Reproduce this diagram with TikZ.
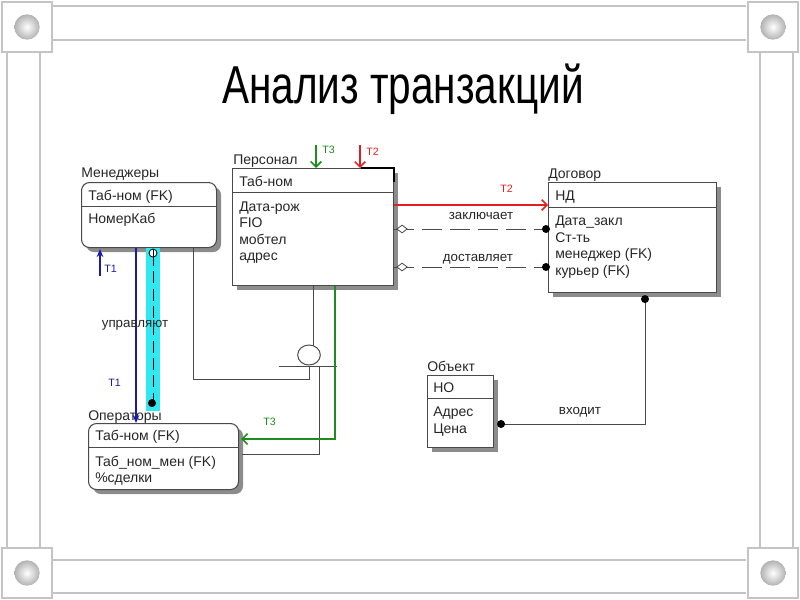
\documentclass[tikz,border=0pt]{standalone}
\usepackage{fontspec}
\setmainfont{Liberation Sans}
\usetikzlibrary{arrows.meta,calc,shapes.geometric,backgrounds}
\definecolor{frameg}{HTML}{C4C4C4}
\definecolor{lineg}{HTML}{4A4A4A}
\definecolor{shad}{HTML}{8C8C8C}
\definecolor{tred}{HTML}{E02020}
\definecolor{tgreen}{HTML}{1E8C1E}
\definecolor{tblue}{HTML}{1A1AB0}
\definecolor{hcyan}{HTML}{30E8F2}
\definecolor{txt}{HTML}{262626}
\tikzset{
  ent/.style={draw=lineg, line width=0.8pt, fill=white, anchor=north west, inner sep=0pt},
  rent/.style={ent, rounded corners=6pt},
  lbl/.style={anchor=base west, inner sep=0pt, font=\fontsize{10.5}{12}\selectfont, text=txt},
  clbl/.style={anchor=base, inner sep=0pt, font=\fontsize{10}{12}\selectfont, text=txt},
  tlbl/.style={anchor=base west, inner sep=0pt, font=\fontsize{8}{9}\selectfont},
  conn/.style={draw=lineg, line width=0.75pt},
  frl/.style={draw=frameg, line width=2.2pt},
  cornerbox/.style={draw=frameg, line width=1.6pt, fill=white, minimum size=38pt, inner sep=0pt},
  ball/.style={circle, minimum size=19pt, inner sep=0pt, shading=radial, inner color=white, outer color=gray!60},
  ldot/.style={circle, fill=black, minimum size=6pt, inner sep=0pt},
  odot/.style={circle, draw=black, fill=white, line width=0.6pt, minimum size=6pt, inner sep=0pt},
  odiam/.style={diamond, draw=lineg, fill=white, line width=0.6pt, minimum width=8pt, minimum height=6pt, inner sep=0pt},
  redarr/.style={tred, line width=1.1pt, -{Straight Barb[length=4pt,width=8pt]}},
  greenarr/.style={tgreen, line width=1.2pt, -{Straight Barb[length=4pt,width=8pt]}},
  bluearr/.style={tblue, line width=1.2pt, -{Stealth[length=6pt,width=5pt]}},
  longdash/.style={dash pattern=on 15pt off 6pt},
}
\begin{document}
\begin{tikzpicture}[x=0.75pt,y=-0.75pt]
\useasboundingbox (0,0) rectangle (800,600);
% ---------- frame ----------
\draw[frl] (53,6) -- (746,6);
\draw[frl] (53,40) -- (746,40);
\draw[frl] (53,560) -- (746,560);
\draw[frl] (53,593) -- (746,593);
\draw[frl] (7,53) -- (7,547);
\draw[frl] (40,53) -- (40,547);
\draw[frl] (760,53) -- (760,547);
\draw[frl] (793,53) -- (793,547);
\node[cornerbox] (c1) at (27,27) {};
\node[cornerbox] (c2) at (773,27) {};
\node[cornerbox] (c3) at (27,573) {};
\node[cornerbox] (c4) at (773,573) {};
\node[ball] (b1) at (c1) {};
\node[ball] (b2) at (c2) {};
\node[ball] (b3) at (c3) {};
\node[ball] (b4) at (c4) {};
% ---------- title ----------
\node[anchor=base, inner sep=0pt, text=black] (title) at (403,103)
  {\fontsize{40}{48}\selectfont\scalebox{0.76}[1]{Анализ транзакций}};
% ---------- entities ----------
\node[rent, minimum width=101.25pt, minimum height=48.75pt] (men) at (81,182) {};
\node[ent, minimum width=120.75pt, minimum height=87.75pt] (pers) at (232,168) {};
\node[ent, minimum width=126pt, minimum height=82.5pt] (dog) at (548,182) {};
\node[ent, minimum width=49.5pt, minimum height=54pt] (obj) at (427,375) {};
\node[rent, minimum width=112.5pt, minimum height=49.5pt] (oper) at (88,423) {};
\begin{scope}[on background layer]
  \fill[shad, rounded corners=6pt] ($(men.north west)+(5,5)$) rectangle ($(men.south east)+(4,4)$);
  \fill[shad] ($(pers.north west)+(5,5)$) rectangle ($(pers.south east)+(4,4)$);
  \fill[shad] ($(dog.north west)+(5,5)$) rectangle ($(dog.south east)+(4,4)$);
  \fill[shad] ($(obj.north west)+(5,5)$) rectangle ($(obj.south east)+(4,4)$);
  \fill[shad, rounded corners=6pt] ($(oper.north west)+(5,5)$) rectangle ($(oper.south east)+(4,4)$);
\end{scope}
% dividers
\draw[conn] ($(men.north west)+(0,24)$) -- ($(men.north east)+(0,24)$);
\draw[conn] ($(pers.north west)+(0,24)$) -- ($(pers.north east)+(0,24)$);
\draw[conn] ($(dog.north west)+(0,25)$) -- ($(dog.north east)+(0,25)$);
\draw[conn] ($(obj.north west)+(0,23)$) -- ($(obj.north east)+(0,23)$);
\draw[conn] ($(oper.north west)+(0,24)$) -- ($(oper.north east)+(0,24)$);
% black corner on Персонал
\draw[black, line width=1.3pt] ($(pers.north east)+(-33,0)$) -- (pers.north east) -- ($(pers.north east)+(0,14)$);
% ---------- texts ----------
\node[lbl] (mT) at (81,177) {Менеджеры};
\node[lbl] (m1) at (88,200) {Таб-ном (FK)};
\node[lbl] (m2) at (88,223) {НомерКаб};
\node[lbl] (pT) at (233,164) {Персонал};
\node[lbl] (p1) at (239,186) {Таб-ном};
\node[lbl] (p2) at (239,211) {Дата-рож};
\node[lbl] (p3) at (239,227) {FIO};
\node[lbl] (p4) at (239,244) {мобтел};
\node[lbl] (p5) at (239,260) {адрес};
\node[lbl] (dT) at (548,178) {Договор};
\node[lbl] (d1) at (555,200) {НД};
\node[lbl] (d2) at (555,225) {Дата\_закл};
\node[lbl] (d3) at (555,242) {Ст-ть};
\node[lbl] (d4) at (555,258) {менеджер (FK)};
\node[lbl] (d5) at (555,275) {курьер (FK)};
\node[lbl] (oT) at (427,371) {Объект};
\node[lbl] (o1) at (433,392) {НО};
\node[lbl] (o2) at (433,416) {Адрес};
\node[lbl] (o3) at (433,433) {Цена};
\node[lbl] (qT) at (88,420) {Операторы};
\node[lbl] (q1) at (95,440) {Таб-ном (FK)};
\node[lbl] (q2) at (95,466) {Таб\_ном\_мен (FK)};
\node[lbl] (q3) at (95,482) {\%сделки};
% ---------- relationships ----------
\coordinate (z1) at ($(pers.north east)+(0,61)$);
\coordinate (z2) at ($(dog.north west)+(0,47)$);
\coordinate (s1) at ($(pers.north east)+(0,99)$);
\coordinate (s2) at ($(dog.north west)+(0,85)$);
\draw[conn, longdash] (z1) -- (z2);
\draw[conn, longdash] (s1) -- (s2);
\node[odiam] (zd) at ($(z1)+(8,0)$) {};
\node[odiam] (sd) at ($(s1)+(8,0)$) {};
\node[ldot] (zdot) at ($(z2)+(-2,0)$) {};
\node[ldot] (sdot) at ($(s2)+(-2,0)$) {};
\node[clbl] (zl) at (481,219) {заключает};
\node[clbl] (sl) at (478,261) {доставляет};
% T2 red
\draw[redarr] ($(pers.north east)+(0,37)$) -- ($(dog.north west)+(0,23)$);
\node[tlbl, text=tred] (t2a) at (500,192) {T2};
\coordinate (t2s) at (360,145);
\draw[redarr] (t2s) -- (t2s |- pers.north);
\node[tlbl, text=tred] (t2b) at (366,155) {T2};
% T3 green top
\coordinate (t3s) at (316,145);
\draw[greenarr] (t3s) -- (t3s |- pers.north);
\node[tlbl, text=tgreen] (t3a) at (322,153) {T3};
% входит
\coordinate (v1) at ($(obj.north east)+(7,49)$);
\coordinate (v2) at ($(dog.south west)+(97,6)$);
\draw[conn] (v1) -| (v2);
\node[ldot] (vd1) at (v1) {};
\node[ldot] (vd2) at (v2) {};
\node[clbl] (vl) at (580,414) {входит};
% subtype
\node[draw=lineg, fill=white, line width=0.75pt, minimum width=17pt, minimum height=15pt, inner sep=0pt, ellipse] (sub) at (309,355) {};
\draw[conn] ($(pers.south west)+(81,0)$) -- ($(pers.south west)+(81,60)$);
\coordinate (barl) at (279,366);
\coordinate (barr) at (337,366);
\draw[conn] (barl) -- (barr);
\coordinate (bl) at (309,366);
\coordinate (br) at (319,366);
\draw[conn] (bl) -- (309,379) -| ($(men.south west)+(112,0)$);
\draw[conn] (br) |- ($(oper.north east)+(3,31)$);
% T3 green to Операторы
\draw[greenarr] ($(pers.south west)+(103,0)$) |- ($(oper.north east)+(2,16)$);
\node[tlbl, text=tgreen] (t3b) at (263,425) {T3};
% cyan highlight and управляют relation
\fill[hcyan] ($(men.south west)+(65,0)$) rectangle ($(men.south west)+(79,163)$);
\draw[black, line width=0.7pt, dash pattern=on 9pt off 4pt] ($(men.south west)+(72,6)$) -- ($(men.south west)+(72,153)$);
\node[odot] (uo) at ($(men.south west)+(72,5)$) {};
\draw[black, line width=0.6pt] (uo.north) -- (uo.south);
\node[ldot] (ud) at ($(men.south west)+(71,155)$) {};
% T1 blue
\coordinate (t1s) at (100,276);
\draw[bluearr] (t1s) -- ($(men.south west)+(19,1)$);
\node[tlbl, text=tblue] (t1a) at (104,272) {T1};
\draw[bluearr] ($(men.south west)+(55,0)$) -- ($(oper.north west)+(48,0)$);
\node[tlbl, text=tblue] (t1b) at (108,386) {T1};
\node[clbl] (ul) at (135,327) {управляют};
\end{tikzpicture}
\end{document}
